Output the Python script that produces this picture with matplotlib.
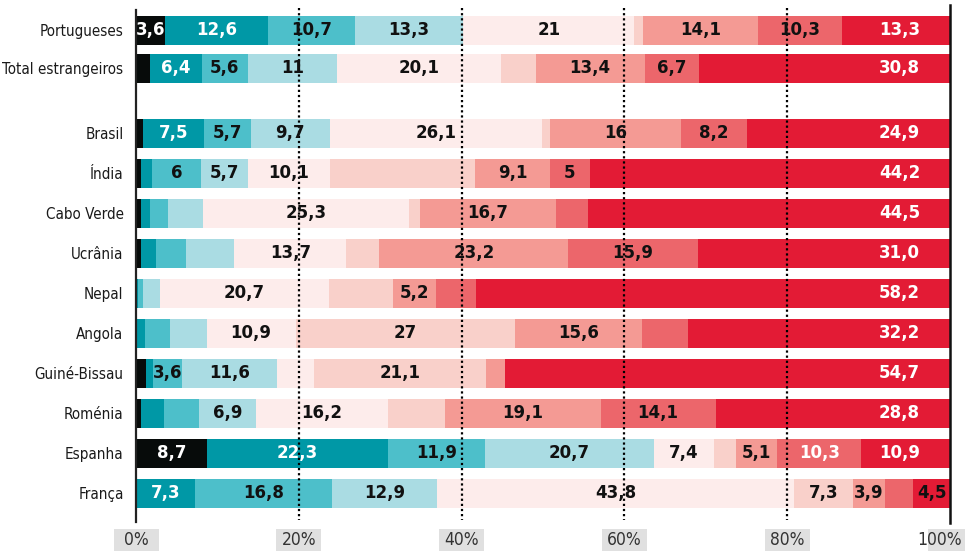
import matplotlib
matplotlib.use("Agg")
import matplotlib.pyplot as plt
from matplotlib import font_manager as fm
from matplotlib.patches import Rectangle
import numpy as np

# ---------------- data ----------------
categories = ["Portugueses", "Total estrangeiros", "Brasil", "Índia", "Cabo Verde",
              "Ucrânia", "Nepal", "Angola", "Guiné-Bissau", "Roménia", "Espanha", "França"]

s_black  = [3.6, 1.7, 0.9, 0.6, 0.6, 0.6, 0.0, 0.0, 1.2, 0.6, 8.7, 0.0]
s_dteal  = [12.6, 6.4, 7.5, 1.4, 1.1, 1.8, 0.3, 1.1, 0.9, 2.9, 22.3, 7.3]
s_teal   = [10.7, 5.6, 5.7, 6.0, 2.2, 3.8, 0.6, 3.1, 3.6, 4.3, 11.9, 16.8]
s_lblue  = [13.3, 11.0, 9.7, 5.7, 4.3, 5.9, 2.1, 4.5, 11.6, 6.9, 20.7, 12.9]
s_vlpink = [21.0, 20.1, 26.1, 10.1, 25.3, 13.7, 20.7, 10.9, 4.6, 16.2, 7.4, 43.8]
s_lpink  = [1.1, 4.3, 1.0, 17.9, 1.4, 4.1, 7.9, 27.0, 21.1, 7.1, 2.7, 7.3]
s_salmon = [14.1, 13.4, 16.0, 9.1, 16.7, 23.2, 5.2, 15.6, 2.3, 19.1, 5.1, 3.9]
s_coral  = [10.3, 6.7, 8.2, 5.0, 3.9, 15.9, 5.0, 5.6, 0.0, 14.1, 10.3, 3.5]
s_red    = [13.3, 30.8, 24.9, 44.2, 44.5, 31.0, 58.2, 32.2, 54.7, 28.8, 10.9, 4.5]

l_black  = ["3,6", "", "", "", "", "", "", "", "", "", "8,7", ""]
l_dteal  = ["12,6", "6,4", "7,5", "", "", "", "", "", "", "", "22,3", "7,3"]
l_teal   = ["10,7", "5,6", "5,7", "6", "", "", "", "", "3,6", "", "11,9", "16,8"]
l_lblue  = ["13,3", "11", "9,7", "5,7", "", "", "", "", "11,6", "6,9", "20,7", "12,9"]
l_vlpink = ["21", "20,1", "26,1", "10,1", "25,3", "13,7", "20,7", "10,9", "", "16,2", "7,4", "43,8"]
l_lpink  = ["", "", "", "", "", "", "", "27", "21,1", "", "", "7,3"]
l_salmon = ["14,1", "13,4", "16", "9,1", "16,7", "23,2", "5,2", "15,6", "", "19,1", "5,1", "3,9"]
l_coral  = ["10,3", "6,7", "8,2", "5", "", "15,9", "", "", "", "14,1", "10,3", ""]
l_red    = ["13,3", "30,8", "24,9", "44,2", "44,5", "31,0", "58,2", "32,2", "54,7", "28,8", "10,9", "4,5"]

ticks = [0, 20, 40, 60, 80, 100]
tick_labels = ["0%", "20%", "40%", "60%", "80%", "100%"]

# ---------------- style ----------------
series = [
    (s_black,  l_black,  "#070b0a", "white"),
    (s_dteal,  l_dteal,  "#0098a6", "white"),
    (s_teal,   l_teal,   "#4dbfca", "#111111"),
    (s_lblue,  l_lblue,  "#aadce3", "#111111"),
    (s_vlpink, l_vlpink, "#fdeceb", "#111111"),
    (s_lpink,  l_lpink,  "#f9d0ca", "#111111"),
    (s_salmon, l_salmon, "#f49a94", "#111111"),
    (s_coral,  l_coral,  "#ec666b", "#111111"),
    (s_red,    l_red,    "#e31b35", "white"),
]
color_override = {(7, "Espanha"): "white", (8, "França"): "#111111"}


def stretch_num(st, name, fname):
    if isinstance(st, str):
        n = fm.stretch_dict.get(st, 500)
    else:
        n = st
    txt = (name + " " + fname).lower()
    if n == 500:
        if "extracondensed" in txt or "extra condensed" in txt:
            n = 200
        elif "semicondensed" in txt or "semi condensed" in txt:
            n = 400
        elif "condensed" in txt or "narrow" in txt:
            n = 300
    return n


def pick_condensed(target_weight=400):
    best = None
    for f in fm.fontManager.ttflist:
        n = stretch_num(f.stretch, f.name, f.fname)
        if n >= 500 or f.style != "normal":
            continue
        w = f.weight if isinstance(f.weight, int) else fm.weight_dict.get(f.weight, 400)
        score = abs(n - 300) + abs(w - target_weight) * 0.5
        if best is None or score < best[0]:
            best = (score, f.fname)
    return best[1] if best else None


cfile = pick_condensed(400)
if cfile:
    cat_fp = fm.FontProperties(fname=cfile, size=14)
    tick_fp = fm.FontProperties(fname=cfile, size=12.5)
else:
    cat_fp = fm.FontProperties(family="Roboto", size=12)
    tick_fp = fm.FontProperties(family="Roboto", size=11)

# row layout (units of 40 px)
pos = np.array([0.0, 0.95] + [2.575 + i for i in range(len(categories) - 2)])
bar_h = 0.725

W, H = 965, 551
fig = plt.figure(figsize=(W / 100, H / 100), dpi=100)
x0, x1 = 136, 950
ax = fig.add_axes([x0 / W, 0, (x1 - x0) / W, 1])
ax.set_xlim(0, 100)
ax.set_ylim((H - 30.3) / 40, -30.3 / 40)
for sp in ax.spines.values():
    sp.set_visible(False)
ax.set_xticks([])
ax.set_yticks(pos)
ax.set_yticklabels(categories, fontproperties=cat_fp, color="#1a1a1a")
ax.tick_params(axis="y", length=0, pad=9)

# make sure the longest label fits inside the left margin
fig.canvas.draw()
maxw = max(t.get_window_extent().width for t in ax.get_yticklabels())
if maxw > 122:
    newsize = cat_fp.get_size() * 122 / maxw
    for t in ax.get_yticklabels():
        t.set_fontsize(newsize)


def px2u(py):
    return (py - 30.3) / 40


left = np.zeros(len(categories))
for si, (vals, labs, col, tcol) in enumerate(series):
    v = np.array(vals)
    ax.barh(pos, v, left=left, height=bar_h, color=col, linewidth=0, zorder=2)
    for i, (val, lab) in enumerate(zip(v, labs)):
        if not lab:
            continue
        xc = left[i] + val / 2
        if si == 8 and val > 8:
            xc = 93.8
        c = color_override.get((si, categories[i]), tcol)
        ax.text(xc, pos[i], lab, ha="center", va="center", fontsize=12,
                fontweight="bold", fontfamily="DejaVu Sans", color=c, zorder=5)
    left = left + v

# dotted gridlines
for t in [20, 40, 60, 80]:
    ax.plot([t, t], [px2u(8), px2u(520)], color="black", lw=1.6,
            linestyle=(0, (1, 1.3)), dash_capstyle="butt", zorder=4, clip_on=False)

# axis lines
ax.plot([0, 0], [px2u(10), px2u(522)], color="#222222", lw=1.6, zorder=6, clip_on=False)
ax.plot([100, 100], [px2u(5), px2u(523)], color="#111111", lw=1.8, zorder=6, clip_on=False)

# tick label boxes
ppu = (x1 - x0) / 100.0
bw = 45 / ppu
xmax_u = (W - x0) / ppu
for t, tl in zip(ticks, tick_labels):
    bl = t - bw / 2
    br = min(t + bw / 2, xmax_u)
    ax.add_patch(Rectangle((bl, px2u(529)), br - bl, px2u(551) - px2u(529),
                           facecolor="#e0e0e0", edgecolor="none", clip_on=False, zorder=1))
    if br < t + bw / 2:
        ax.text(xmax_u - 3 / ppu, px2u(540.5), tl, ha="right", va="center",
                fontproperties=tick_fp, color="#333333", clip_on=False, zorder=3)
    else:
        ax.text(t, px2u(540.5), tl, ha="center", va="center",
                fontproperties=tick_fp, color="#333333", clip_on=False, zorder=3)

fig.savefig("out.png", dpi=100, facecolor="white")
